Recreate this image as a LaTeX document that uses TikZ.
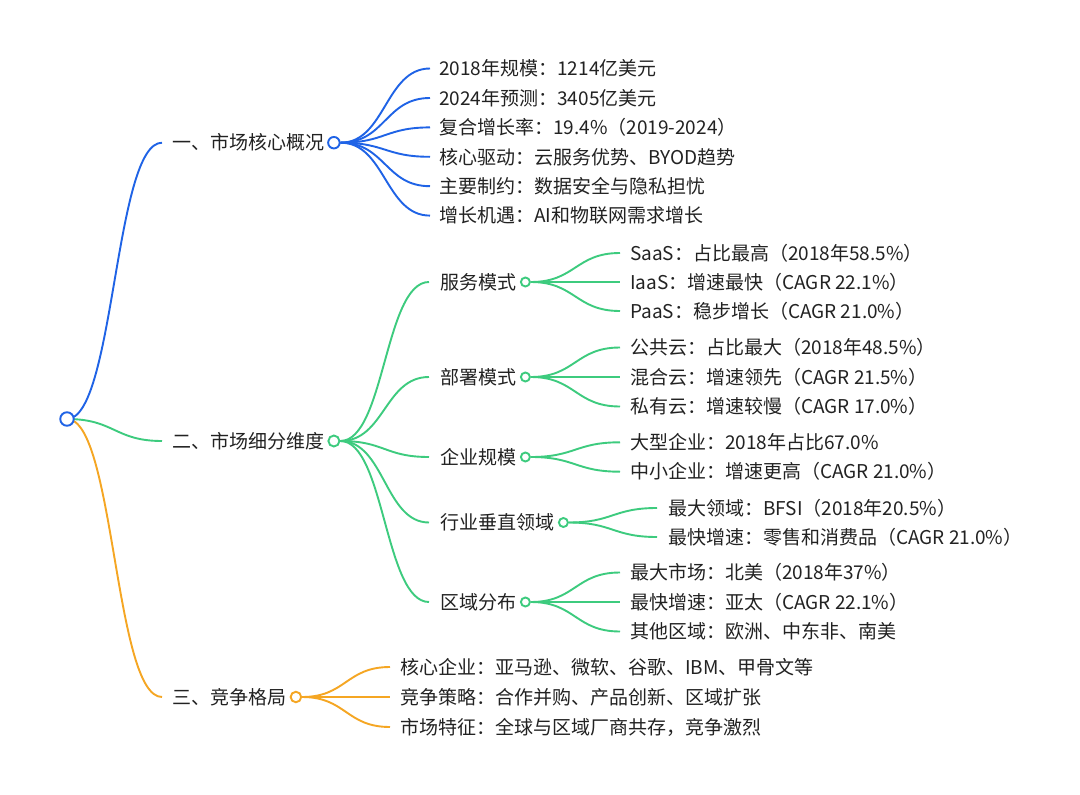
\documentclass[tikz,border=0pt]{standalone}
\usepackage{fontspec}
\newfontfamily\cjk{Noto Sans CJK SC}
\usetikzlibrary{backgrounds,calc}
\definecolor{cblue}{HTML}{1F63E6}
\definecolor{cgreen}{HTML}{3DCB7E}
\definecolor{corange}{HTML}{F5A623}
\definecolor{ctext}{HTML}{222222}
\tikzset{
  txt/.style={anchor=west, inner sep=0pt, text height=16.5pt, text depth=2pt,
    font=\cjk\fontsize{19pt}{22pt}\selectfont, text=ctext},
  dot/.style={circle, draw=#1, fill=white, line width=1.9pt, inner sep=0pt},
  lnk/.style={draw=#1, line width=1.9pt},
}
\newcommand\mlink[3]{%
  \path[lnk=#1] let \p1=(#2), \p2=(#3), \p3=($(\p1)!0.5!(\p2)$) in
    (\p1) .. controls (\x3,\y1) and (\x3,\y2) .. (\p2);}
\begin{document}
\begin{tikzpicture}[x=1pt,y=-1pt]
\useasboundingbox (0,0) rectangle (1080,795);

% root
\node[dot=cblue, minimum size=13.5pt] (root) at (67,419) {};

% level 1
\node[txt] (a) at (172,142.7) {一、市场核心概况};
\node[dot=cblue, minimum size=11.5pt] (ca) at ([xshift=9.5pt]a.east) {};
\node[txt] (b) at (172,441) {二、市场细分维度};
\node[dot=cgreen, minimum size=11pt] (cb) at ([xshift=9.5pt]b.east) {};
\node[txt] (c) at (172,697) {三、竞争格局};
\node[dot=corange, minimum size=10.5pt] (cc) at ([xshift=9.5pt]c.east) {};

% branch 1
\node[txt] (a1) at (439,68.5) {2018年规模：1214亿美元};
\node[txt] (a2) at (439,98) {2024年预测：3405亿美元};
\node[txt] (a3) at (439,127.4) {复合增长率：19.4\%（2019-2024）};
\node[txt] (a4) at (439,156.8) {核心驱动：云服务优势、BYOD趋势};
\node[txt] (a5) at (439,186.2) {主要制约：数据安全与隐私担忧};
\node[txt] (a6) at (439,215.6) {增长机遇：AI和物联网需求增长};

% branch 2 level 2
\node[txt] (b1) at (440,282) {服务模式};
\node[dot=cgreen, minimum size=9pt] (cb1) at ([xshift=9pt]b1.east) {};
\node[txt] (b2) at (440,377) {部署模式};
\node[dot=cgreen, minimum size=9pt] (cb2) at ([xshift=9pt]b2.east) {};
\node[txt] (b3) at (440,457) {企业规模};
\node[dot=cgreen, minimum size=9pt] (cb3) at ([xshift=9pt]b3.east) {};
\node[txt] (b4) at (440,522.5) {行业垂直领域};
\node[dot=cgreen, minimum size=9pt] (cb4) at ([xshift=9pt]b4.east) {};
\node[txt] (b5) at (440,602) {区域分布};
\node[dot=cgreen, minimum size=9pt] (cb5) at ([xshift=9pt]b5.east) {};

% branch 2 level 3
\node[txt] (b11) at (630,253) {SaaS：占比最高（2018年58.5\%）};
\node[txt] (b12) at (630,282) {IaaS：增速最快（CAGR 22.1\%）};
\node[txt] (b13) at (630,311) {PaaS：稳步增长（CAGR 21.0\%）};
\node[txt] (b21) at (630,347.5) {公共云：占比最大（2018年48.5\%）};
\node[txt] (b22) at (630,377) {混合云：增速领先（CAGR 21.5\%）};
\node[txt] (b23) at (630,406.5) {私有云：增速较慢（CAGR 17.0\%）};
\node[txt] (b31) at (630,442.3) {大型企业：2018年占比67.0\%};
\node[txt] (b32) at (630,471.7) {中小企业：增速更高（CAGR 21.0\%）};
\node[txt] (b41) at (668,508) {最大领域：BFSI（2018年20.5\%）};
\node[txt] (b42) at (668,537) {最快增速：零售和消费品（CAGR 21.0\%）};
\node[txt] (b51) at (630,572.5) {最大市场：北美（2018年37\%）};
\node[txt] (b52) at (630,602) {最快增速：亚太（CAGR 22.1\%）};
\node[txt] (b53) at (630,631.5) {其他区域：欧洲、中东非、南美};

% branch 3
\node[txt] (c1) at (400,667) {核心企业：亚马逊、微软、谷歌、IBM、甲骨文等};
\node[txt] (c2) at (400,697) {竞争策略：合作并购、产品创新、区域扩张};
\node[txt] (c3) at (400,727) {市场特征：全球与区域厂商共存，竞争激烈};

\begin{pgfonlayer}{background}
\fill[white] (0,0) rectangle (1080,795);
\mlink{cblue}{root.center}{[xshift=-10pt]a.west}
\mlink{cgreen}{root.center}{[xshift=-10pt]b.west}
\mlink{corange}{root.center}{[xshift=-10pt]c.west}
\foreach \t in {a1,a2,a3,a4,a5,a6}{\mlink{cblue}{ca.east}{[xshift=-9pt]\t.west}}
\foreach \t in {b1,b2,b3,b4,b5}{\mlink{cgreen}{cb.east}{[xshift=-11pt]\t.west}}
\foreach \t in {b11,b12,b13}{\mlink{cgreen}{cb1.east}{[xshift=-10pt]\t.west}}
\foreach \t in {b21,b22,b23}{\mlink{cgreen}{cb2.east}{[xshift=-10pt]\t.west}}
\foreach \t in {b31,b32}{\mlink{cgreen}{cb3.east}{[xshift=-10pt]\t.west}}
\foreach \t in {b41,b42}{\mlink{cgreen}{cb4.east}{[xshift=-11pt]\t.west}}
\foreach \t in {b51,b52,b53}{\mlink{cgreen}{cb5.east}{[xshift=-10pt]\t.west}}
\foreach \t in {c1,c2,c3}{\mlink{corange}{cc.east}{[xshift=-10pt]\t.west}}
\end{pgfonlayer}
\end{tikzpicture}
\end{document}
